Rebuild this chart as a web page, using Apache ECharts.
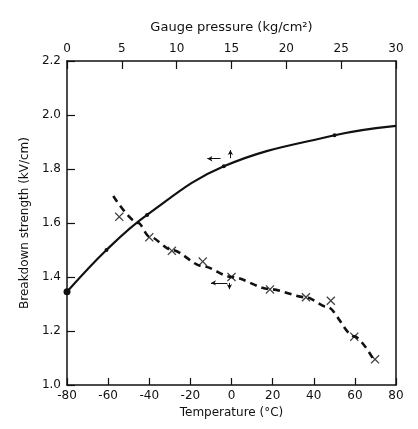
<!DOCTYPE html>
<html><head><meta charset="utf-8">
<script src="https://cdn.jsdelivr.net/npm/echarts@6/dist/echarts.min.js"></script>
<style>html,body{margin:0;padding:0;background:#fff}#c{width:418px;height:429px}</style>
</head><body><div id="c"></div>
<script>
// Solid curve: breakdown strength vs gauge pressure (top axis)
const pressure = [0, 3.6, 7.3, 14.3, 24.4, 30];
const strengthP = [1.345, 1.50, 1.63, 1.81, 1.925, 1.96];
// Dashed fitted curve vs temperature (bottom axis)
const curveT = [-57.5, -45.3, -40, -29, -14, 0, 18.7, 36.2, 46.3, 59.7, 69.8];
const curveS = [1.70, 1.60, 1.55, 1.50, 1.44, 1.40, 1.355, 1.325, 1.29, 1.18, 1.085];
// Measured points (crosses) vs temperature
const temperature = [-54.6, -40, -29, -14, 0, 18.7, 36.2, 48.3, 59.7, 69.8];
const strengthT = [1.623, 1.547, 1.497, 1.457, 1.40, 1.354, 1.325, 1.312, 1.179, 1.095];
const tempTicks = [-80, -60, -40, -20, 0, 20, 40, 60, 80];
const pressTicks = [0, 5, 10, 15, 20, 25, 30];
const strengthTicks = [1.0, 1.2, 1.4, 1.6, 1.8, 2.0, 2.2];

const cross = 'path://M0,1L1,0L5,4L9,0L10,1L6,5L10,9L9,10L5,6L1,10L0,9L4,5Z';
const font = 'DejaVu Sans';
const ink = '#111';

const chart = echarts.init(document.getElementById('c'));
chart.setOption({
  animation: false,
  backgroundColor: '#fff',
  grid: {left: 67, right: 22, top: 61, bottom: 44},
  xAxis: [
    {type: 'value', position: 'bottom', min: tempTicks[0], max: tempTicks[tempTicks.length-1], interval: 20,
     name: 'Temperature (°C)', nameLocation: 'middle', nameGap: 19,
     nameTextStyle: {color: ink, fontFamily: font, fontSize: 12},
     axisLine: {show: true, onZero: false, lineStyle: {color: ink, width: 1.5}},
     axisTick: {show: true, inside: true, length: 7, lineStyle: {color: ink, width: 1.2}},
     axisLabel: {color: ink, fontFamily: font, fontSize: 12, margin: 5},
     splitLine: {show: false}},
    {type: 'value', position: 'top', min: pressTicks[0], max: pressTicks[pressTicks.length-1], interval: 5,
     name: 'Gauge pressure (kg/cm²)', nameLocation: 'middle', nameGap: 27,
     nameTextStyle: {color: ink, fontFamily: font, fontSize: 13},
     axisLine: {show: true, onZero: false, lineStyle: {color: ink, width: 1.5}},
     axisTick: {show: true, inside: true, length: 8, lineStyle: {color: ink, width: 1.2}},
     axisLabel: {color: ink, fontFamily: font, fontSize: 12, margin: 6},
     splitLine: {show: false}}
  ],
  yAxis: [
    {type: 'value', position: 'left', min: strengthTicks[0], max: strengthTicks[strengthTicks.length-1], interval: 0.2,
     name: 'Breakdown strength (kV/cm)', nameLocation: 'middle', nameGap: 36,
     nameTextStyle: {color: ink, fontFamily: font, fontSize: 12},
     axisLine: {show: true, onZero: false, lineStyle: {color: ink, width: 1.5}},
     axisTick: {show: true, inside: true, length: 8, lineStyle: {color: ink, width: 1.2}},
     axisLabel: {color: ink, fontFamily: font, fontSize: 12, margin: 6, formatter: v => v.toFixed(1)},
     splitLine: {show: false}},
    {type: 'value', position: 'right', min: strengthTicks[0], max: strengthTicks[strengthTicks.length-1], interval: 0.2,
     axisLine: {show: true, onZero: false, lineStyle: {color: ink, width: 1.5}},
     axisTick: {show: false}, axisLabel: {show: false}, splitLine: {show: false}}
  ],
  series: [
    {type: 'line', xAxisIndex: 1, yAxisIndex: 0, smooth: 0.4,
     data: pressure.map((p, i) => ({value: [p, strengthP[i]], symbolSize: i === 0 ? 7 : (i === pressure.length-1 ? 0 : 4)})),
     symbol: 'circle', showSymbol: true,
     itemStyle: {color: ink}, lineStyle: {color: ink, width: 2.2},
     markLine: {silent: true, symbol: ['none', 'arrow'], symbolSize: [4, 5], label: {show: false},
       lineStyle: {color: ink, width: 1, type: 'solid'},
       data: [
         [{coord: [14.0, 1.838]}, {coord: [12.8, 1.838]}],
         [{coord: [14.9, 1.84]}, {coord: [14.9, 1.87]}]
       ]}},
    {type: 'line', xAxisIndex: 0, yAxisIndex: 0, smooth: 0.3, smoothMonotone: 'x',
     data: curveT.map((t, i) => [t, curveS[i]]),
     showSymbol: false, symbol: 'none',
     lineStyle: {color: ink, width: 2.6, type: [7, 5]},
     markLine: {silent: true, symbol: ['none', 'arrow'], symbolSize: [4, 5], label: {show: false},
       lineStyle: {color: ink, width: 1, type: 'solid'},
       data: [
         [{coord: [-2, 1.378]}, {coord: [-10, 1.378]}],
         [{coord: [-1, 1.378]}, {coord: [-1, 1.355]}]
       ]}},
    {type: 'scatter', xAxisIndex: 0, yAxisIndex: 0,
     data: temperature.map((t, i) => [t, strengthT[i]]),
     symbol: cross, symbolSize: 9, itemStyle: {color: ink}}
  ]
});
</script></body></html>
